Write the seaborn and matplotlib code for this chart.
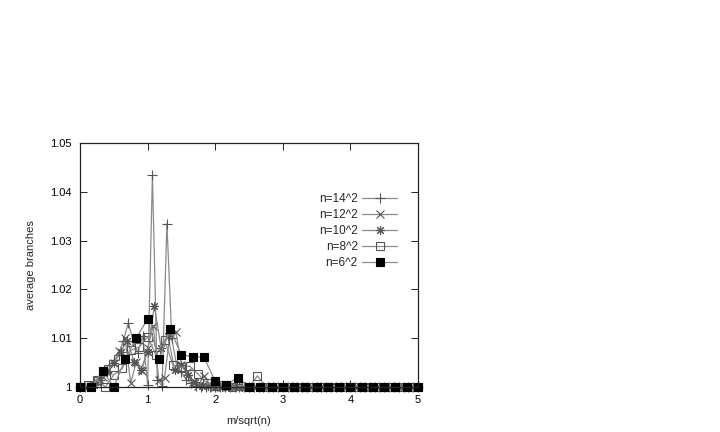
import numpy as np
import pandas as pd
import matplotlib
matplotlib.use('Agg')
import matplotlib.pyplot as plt
import seaborn as sns
from matplotlib.ticker import FormatStrFormatter

# ------------------------------------------
# Data
# x = m / sqrt(n), y = average branches
# ------------------------------------------
sides = [14, 12, 10, 8, 6]
labels = ['n=14^2', 'n=12^2', 'n=10^2', 'n=8^2', 'n=6^2']

# excess over 1, in thousandths, for m = 0, 1, 2, ... (remaining m up to 5*sqrt(n) are 0)
excess_14 = [0, 0, 0.3, 1.0, 2.0, 3.5, 4.5, 5.5, 6.5, 9.5, 13.2, 9.5, 7.0, 10.5, 0.5,
             43.5, 1.4, 0.2, 33.5, 10.0, 4.5, 3.0, 1.5, 0.8, 0.3]
excess_12 = [0, 0, 0.3, 1.0, 2.0, 3.5, 5.0, 7.4, 10.0, 0.8, 5.2, 3.3, 8.0, 12.4, 1.4,
             1.8, 11.0, 11.3, 4.5, 3.0, 1.0, 0.3, 2.3, 0.5]
excess_10 = [0, 0, 0.5, 1.5, 3.0, 5.0, 7.1, 9.5, 5.2, 3.5, 7.2, 16.6, 8.0, 10.5, 3.5,
             4.5, 2.5, 1.0, 0.3, 0.3]
excess_8 = [0, 0.5, 1.5, 0, 2.5, 3.8, 7.5, 8.2, 10.3, 6.5, 9.6, 4.5, 4.0, 4.3, 2.6,
            0.8, 0.3, 0.5, 0, 0.3, 0, 2.3]
excess_6 = [0, 0, 3.3, 0, 5.7, 10.1, 13.9, 5.7, 11.8, 6.6, 6.2, 6.1, 1.2, 0.5, 1.9]

excess = [excess_14, excess_12, excess_10, excess_8, excess_6]

frames = []
for s, lab, ex in zip(sides, labels, excess):
    m = np.arange(5 * s + 1)
    vals = np.zeros(len(m))
    vals[:len(ex)] = ex
    frames.append(pd.DataFrame({'x': m / s, 'y': 1 + vals / 1000.0, 'series': lab}))
df = pd.concat(frames, ignore_index=True)

markers = {'n=14^2': '+', 'n=12^2': 'x', 'n=10^2': (8, 2, 0), 'n=8^2': 's', 'n=6^2': 's'}
msizes = {'n=14^2': 7, 'n=12^2': 6, 'n=10^2': 6.5, 'n=8^2': 5.5, 'n=6^2': 6}

# ------------------------------------------
# Plot
# ------------------------------------------
sns.set_style('ticks')
plt.rcParams['font.family'] = ['Liberation Sans', 'DejaVu Sans']
plt.rcParams['font.size'] = 8

fig = plt.figure(figsize=(7.2, 4.32), dpi=100)
ax = fig.add_axes([80 / 720, 1 - 387 / 432, 338 / 720, 244 / 432])

for lab in labels:
    sub = df[df['series'] == lab]
    filled = lab == 'n=6^2'
    sns.lineplot(data=sub, x='x', y='y', ax=ax, label=lab, color='#8a8a8a', linewidth=0.9,
                 marker=markers[lab], markersize=msizes[lab],
                 markeredgecolor='black' if filled else '#555555', markeredgewidth=0.8,
                 markerfacecolor='black' if filled else 'none',
                 clip_on=False, estimator=None)

ax.set_xlim(0, 5)
ax.set_ylim(1, 1.05)
ax.set_xticks([0, 1, 2, 3, 4, 5])
ax.set_yticks([1, 1.01, 1.02, 1.03, 1.04, 1.05])
ax.yaxis.set_major_formatter(FormatStrFormatter('%g'))
ax.tick_params(direction='in', length=5, width=0.6, top=True, right=True,
               labelsize=8, colors='black', pad=6)
for sp in ax.spines.values():
    sp.set_linewidth(0.9)
    sp.set_color('#222222')
ax.set_xlabel('m/sqrt(n)', fontsize=8, labelpad=8)
ax.set_ylabel('average branches', fontsize=8, labelpad=10)

# markerfirst=False right-aligns the texts against the samples, as gnuplot does
ax.legend(loc='upper right', bbox_to_anchor=(0.97, 0.84), frameon=False,
          markerfirst=False, handlelength=3.0, labelspacing=0.35,
          handletextpad=0.35, fontsize=8.5)

fig.savefig('out.png', dpi=100)
